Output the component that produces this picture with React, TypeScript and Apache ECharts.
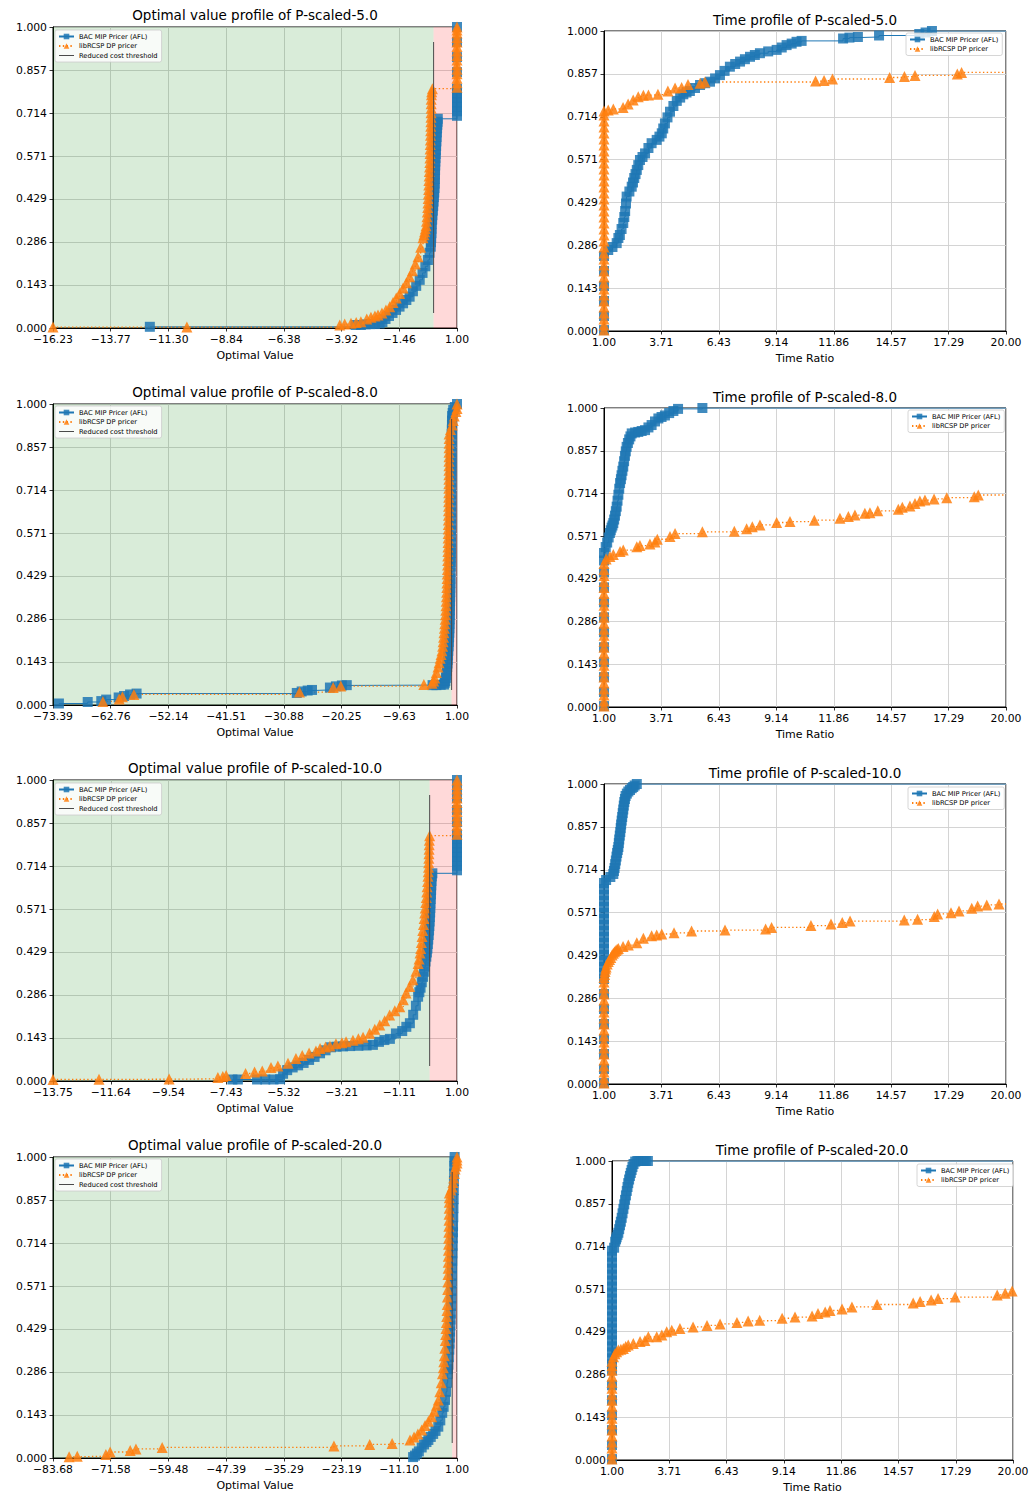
import React, { useEffect, useRef } from "react";
import * as echarts from "echarts";

type Pt = [number, number];

const BLUE = "#1f77b4";
const ORANGE = "#ff7f0e";
const NAME_BAC = "BAC MIP Pricer (AFL)";
const NAME_RCSP = "libRCSP DP pricer";
const NAME_THR = "Reduced cost threshold";

// ---- tick labels ----
const yTicks = [0, 0.143, 0.286, 0.429, 0.571, 0.714, 0.857, 1.0];
const timeTicks = [1.0, 3.71, 6.43, 9.14, 11.86, 14.57, 17.29, 20.0];
const optTicks5 = [-16.23, -13.77, -11.3, -8.84, -6.38, -3.92, -1.46, 1.0];
const optTicks8 = [-73.39, -62.76, -52.14, -41.51, -30.88, -20.25, -9.63, 1.0];
const optTicks10 = [-13.75, -11.64, -9.54, -7.43, -5.32, -3.21, -1.11, 1.0];
const optTicks20 = [-83.68, -71.58, -59.48, -47.39, -35.29, -23.19, -11.1, 1.0];
const thresholdValue = 0;
const thresholdSpan = [0.05, 0.95];
const timeEnd = 20;

// ---- optimal value profiles ----
const opt5Bac: Pt[] = [[-12.1,0.004],[-3.33,0.01],[-3.1,0.01],[-2.9,0.012],[-2.7,0.013],[-2.5,0.013],[-2.3,0.015],[-2.18,0.02],[-2.05,0.03],[-1.9,0.04],[-1.75,0.05],[-1.6,0.06],[-1.45,0.071],[-1.3,0.082],[-1.16,0.093],[-1.02,0.104],[-0.88,0.122],[-0.74,0.14],[-0.59,0.16],[-0.47,0.183],[-0.35,0.205],[-0.24,0.226],[-0.17,0.25],[-0.12,0.27],[-0.11,0.285],[-0.1,0.3],[-0.09,0.315],[-0.085,0.33],[-0.08,0.345],[-0.06,0.36],[-0.05,0.375],[-0.03,0.39],[-0.015,0.405],[0.0,0.42],[0.015,0.435],[0.03,0.45],[0.04,0.465],[0.05,0.48],[0.055,0.495],[0.06,0.51],[0.065,0.525],[0.07,0.54],[0.075,0.553],[0.08,0.565],[0.09,0.578],[0.1,0.59],[0.11,0.605],[0.12,0.62],[0.13,0.635],[0.14,0.65],[0.15,0.663],[0.16,0.675],[0.17,0.685],[0.18,0.695],[1,0.705],[1,0.72],[1,0.735],[1,0.75],[1,0.765],[1,0.78],[1,0.795],[1,0.85],[1,0.9],[1,0.95],[1,1.0]];
const opt5Rcsp: Pt[] = [[-16.23,0.003],[-10.52,0.003],[-4.0,0.01],[-3.79,0.013],[-3.52,0.016],[-3.3,0.018],[-3.1,0.021],[-2.85,0.03],[-2.67,0.036],[-2.5,0.04],[-2.37,0.043],[-2.2,0.05],[-2.03,0.06],[-1.87,0.071],[-1.73,0.085],[-1.59,0.1],[-1.45,0.115],[-1.3,0.133],[-1.16,0.15],[-1.02,0.17],[-0.9,0.19],[-0.78,0.213],[-0.66,0.237],[-0.55,0.268],[-0.45,0.3],[-0.41,0.31],[-0.38,0.32],[-0.35,0.33],[-0.32,0.34],[-0.3,0.355],[-0.28,0.37],[-0.265,0.385],[-0.25,0.4],[-0.24,0.415],[-0.23,0.43],[-0.22,0.445],[-0.21,0.46],[-0.205,0.475],[-0.2,0.49],[-0.19,0.505],[-0.18,0.52],[-0.17,0.535],[-0.16,0.55],[-0.155,0.565],[-0.15,0.58],[-0.145,0.595],[-0.14,0.61],[-0.135,0.625],[-0.13,0.64],[-0.125,0.655],[-0.12,0.67],[-0.115,0.685],[-0.11,0.7],[-0.105,0.715],[-0.1,0.73],[-0.1,0.745],[-0.1,0.76],[-0.09,0.775],[-0.08,0.785],[-0.05,0.795],[1,0.8],[1,0.815],[1,0.83],[1,0.845],[1,0.86],[1,0.875],[1,0.89],[1,0.905],[1,0.92],[1,0.935],[1,0.95],[1,0.965],[1,0.98],[1,0.99],[1,1.0]];

const opt8Bac: Pt[] = [[-72.3,0.005],[-67.0,0.01],[-64.5,0.013],[-63.6,0.018],[-61.3,0.025],[-60.3,0.03],[-59.2,0.035],[-58.0,0.038],[-28.5,0.04],[-27.6,0.045],[-26.5,0.048],[-25.7,0.05],[-22.4,0.058],[-21.3,0.062],[-20.2,0.065],[-19.3,0.066],[-3.5,0.066],[-2.8,0.066],[-2.0,0.067],[-1.4,0.068],[-1.25,0.074],[-1.15,0.08],[-1.05,0.09],[-0.95,0.1],[-0.87,0.113],[-0.8,0.126],[-0.75,0.138],[-0.7,0.15],[-0.65,0.165],[-0.6,0.18],[-0.55,0.195],[-0.5,0.21],[-0.46,0.225],[-0.42,0.24],[-0.395,0.255],[-0.37,0.27],[-0.35,0.285],[-0.33,0.3],[-0.31,0.315],[-0.29,0.33],[-0.275,0.345],[-0.26,0.36],[-0.245,0.375],[-0.23,0.39],[-0.215,0.405],[-0.2,0.42],[-0.18,0.44],[-0.16,0.46],[-0.15,0.475],[-0.14,0.49],[-0.13,0.505],[-0.12,0.52],[-0.11,0.54],[-0.1,0.56],[-0.095,0.58],[-0.09,0.6],[-0.085,0.62],[-0.08,0.64],[-0.075,0.66],[-0.07,0.68],[-0.065,0.7],[-0.06,0.72],[-0.055,0.74],[-0.05,0.76],[-0.045,0.775],[-0.04,0.79],[-0.03,0.805],[-0.02,0.82],[-0.01,0.84],[0.0,0.86],[0.015,0.88],[0.03,0.9],[0.05,0.915],[0.07,0.93],[0.085,0.945],[0.1,0.96],[0.2,0.97],[0.3,0.98],[0.6,0.99],[1,1.0]];
const opt8Rcsp: Pt[] = [[-64.2,0.012],[-61.2,0.02],[-60.6,0.027],[-58.5,0.035],[-28.0,0.043],[-21.8,0.058],[-20.4,0.063],[-5.1,0.068],[-3.6,0.072],[-3.3,0.08],[-3.1,0.09],[-2.8,0.108],[-2.5,0.126],[-2.3,0.14],[-2.1,0.155],[-1.93,0.168],[-1.77,0.18],[-1.65,0.195],[-1.55,0.21],[-1.47,0.225],[-1.4,0.24],[-1.32,0.255],[-1.25,0.27],[-1.18,0.285],[-1.12,0.3],[-1.07,0.315],[-1.03,0.33],[-0.99,0.345],[-0.95,0.36],[-0.91,0.375],[-0.88,0.39],[-0.85,0.405],[-0.82,0.42],[-0.79,0.435],[-0.76,0.45],[-0.74,0.465],[-0.72,0.48],[-0.7,0.495],[-0.68,0.51],[-0.665,0.525],[-0.65,0.54],[-0.635,0.555],[-0.62,0.57],[-0.61,0.585],[-0.6,0.6],[-0.585,0.615],[-0.57,0.63],[-0.56,0.645],[-0.55,0.66],[-0.54,0.675],[-0.53,0.69],[-0.52,0.705],[-0.51,0.72],[-0.505,0.735],[-0.5,0.75],[-0.495,0.765],[-0.49,0.78],[-0.485,0.795],[-0.48,0.81],[-0.475,0.825],[-0.47,0.84],[-0.465,0.855],[-0.46,0.87],[-0.455,0.885],[-0.45,0.9],[-0.2,0.915],[0.1,0.93],[0.3,0.945],[0.5,0.96],[0.8,0.975],[1,0.985],[1,1.0]];

const opt10Bac: Pt[] = [[-7.2,0.005],[-7.0,0.005],[-6.3,0.005],[-6.0,0.005],[-5.7,0.005],[-5.46,0.006],[-5.35,0.024],[-5.2,0.036],[-5.0,0.045],[-4.8,0.052],[-4.6,0.06],[-4.4,0.07],[-4.2,0.08],[-4.0,0.092],[-3.8,0.102],[-3.6,0.112],[-3.4,0.114],[-3.16,0.115],[-2.9,0.116],[-2.6,0.117],[-2.3,0.118],[-2.07,0.12],[-1.85,0.13],[-1.65,0.136],[-1.45,0.14],[-1.23,0.158],[-1.0,0.166],[-0.85,0.18],[-0.72,0.192],[-0.6,0.22],[-0.5,0.25],[-0.42,0.28],[-0.375,0.295],[-0.33,0.31],[-0.285,0.328],[-0.24,0.346],[-0.21,0.363],[-0.18,0.38],[-0.15,0.397],[-0.12,0.413],[-0.1,0.427],[-0.08,0.44],[-0.065,0.455],[-0.05,0.47],[-0.035,0.485],[-0.02,0.5],[-0.01,0.515],[0.0,0.53],[0.01,0.545],[0.02,0.56],[0.025,0.575],[0.03,0.59],[0.04,0.605],[0.05,0.62],[0.055,0.635],[0.06,0.65],[0.07,0.665],[0.08,0.68],[0.1,0.69],[1,0.7],[1,0.715],[1,0.73],[1,0.745],[1,0.76],[1,0.775],[1,0.79],[1,0.805],[1,0.82],[1,0.86],[1,0.9],[1,0.94],[1,0.97],[1,1.0]];
const opt10Rcsp: Pt[] = [[-13.75,0.005],[-12.07,0.006],[-9.51,0.007],[-7.73,0.012],[-7.55,0.015],[-7.43,0.018],[-6.72,0.025],[-6.39,0.03],[-6.11,0.033],[-5.79,0.045],[-5.54,0.05],[-5.17,0.059],[-4.88,0.075],[-4.65,0.085],[-4.4,0.093],[-4.15,0.1],[-4.0,0.108],[-3.8,0.113],[-3.64,0.116],[-3.42,0.124],[-3.2,0.127],[-3.05,0.13],[-2.8,0.135],[-2.6,0.14],[-2.43,0.145],[-2.19,0.159],[-2.0,0.172],[-1.82,0.186],[-1.64,0.2],[-1.46,0.219],[-1.27,0.233],[-1.09,0.247],[-0.96,0.27],[-0.86,0.292],[-0.73,0.314],[-0.61,0.336],[-0.5,0.365],[-0.42,0.39],[-0.385,0.405],[-0.35,0.425],[-0.325,0.44],[-0.3,0.46],[-0.275,0.48],[-0.25,0.5],[-0.225,0.52],[-0.2,0.54],[-0.18,0.558],[-0.16,0.575],[-0.14,0.593],[-0.12,0.61],[-0.105,0.628],[-0.09,0.645],[-0.075,0.663],[-0.06,0.68],[-0.05,0.695],[-0.04,0.71],[-0.035,0.725],[-0.03,0.74],[-0.025,0.755],[-0.02,0.77],[-0.015,0.785],[-0.01,0.8],[0.0,0.815],[1,0.82],[1,0.835],[1,0.85],[1,0.865],[1,0.88],[1,0.895],[1,0.91],[1,0.925],[1,0.94],[1,0.955],[1,0.97],[1,0.985],[1,1.0]];

const opt20Bac: Pt[] = [[-8.2,0.003],[-7.8,0.008],[-7.4,0.015],[-7.0,0.022],[-6.4,0.035],[-5.9,0.045],[-5.4,0.053],[-5.0,0.06],[-4.5,0.07],[-4.0,0.08],[-3.5,0.09],[-2.92,0.104],[-2.5,0.125],[-2.1,0.15],[-1.8,0.17],[-1.52,0.193],[-1.3,0.22],[-1.1,0.25],[-0.95,0.28],[-0.88,0.295],[-0.8,0.31],[-0.71,0.335],[-0.62,0.36],[-0.56,0.38],[-0.5,0.4],[-0.45,0.42],[-0.4,0.44],[-0.35,0.46],[-0.3,0.48],[-0.25,0.505],[-0.2,0.53],[-0.16,0.555],[-0.12,0.58],[-0.085,0.605],[-0.05,0.63],[-0.015,0.655],[0.02,0.68],[0.06,0.705],[0.1,0.73],[0.135,0.75],[0.17,0.77],[0.22,0.8],[0.26,0.83],[0.3,0.86],[0.33,0.89],[0.36,0.92],[0.4,0.945],[0.43,0.97],[0.47,0.985],[0.5,1.0]];
const opt20Rcsp: Pt[] = [[-80.3,0.004],[-78.6,0.006],[-72.6,0.012],[-71.7,0.02],[-67.5,0.025],[-66.3,0.03],[-60.8,0.035],[-24.8,0.04],[-17.3,0.045],[-12.6,0.048],[-8.85,0.06],[-8.0,0.07],[-7.2,0.08],[-6.4,0.093],[-5.7,0.108],[-5.0,0.122],[-4.31,0.137],[-3.8,0.155],[-3.3,0.175],[-2.92,0.193],[-2.6,0.22],[-2.3,0.25],[-2.05,0.28],[-1.87,0.3],[-1.76,0.32],[-1.65,0.34],[-1.55,0.365],[-1.45,0.39],[-1.37,0.41],[-1.3,0.43],[-1.23,0.45],[-1.16,0.47],[-1.1,0.49],[-1.05,0.51],[-1.0,0.535],[-0.95,0.56],[-0.915,0.585],[-0.88,0.61],[-0.855,0.63],[-0.83,0.65],[-0.815,0.67],[-0.8,0.69],[-0.775,0.71],[-0.75,0.73],[-0.725,0.75],[-0.7,0.77],[-0.68,0.79],[-0.66,0.81],[-0.64,0.83],[-0.62,0.85],[-0.61,0.865],[-0.6,0.88],[-0.3,0.89],[-0.05,0.9],[0.15,0.915],[0.3,0.93],[0.45,0.945],[0.6,0.96],[0.8,0.97],[1,0.98],[1,0.99],[1,1.0]];

// ---- time profiles ----
const time5Bac: Pt[] = [[1,0.003],[1,0.05],[1,0.1],[1,0.15],[1,0.2],[1,0.25],[1.2,0.27],[1.4,0.28],[1.6,0.293],[1.68,0.31],[1.75,0.32],[1.83,0.34],[1.91,0.36],[1.96,0.38],[2.0,0.4],[2.04,0.425],[2.07,0.448],[2.2,0.465],[2.31,0.481],[2.37,0.495],[2.43,0.51],[2.49,0.523],[2.55,0.537],[2.62,0.553],[2.7,0.57],[2.82,0.58],[2.94,0.592],[3.1,0.61],[3.25,0.626],[3.49,0.637],[3.62,0.648],[3.73,0.659],[3.8,0.675],[3.88,0.692],[4.0,0.712],[4.12,0.731],[4.28,0.75],[4.44,0.767],[4.6,0.778],[4.75,0.789],[4.9,0.795],[5.06,0.8],[5.3,0.81],[5.54,0.82],[5.78,0.826],[6.01,0.831],[6.25,0.842],[6.48,0.853],[6.7,0.867],[6.95,0.881],[7.2,0.89],[7.43,0.898],[7.66,0.906],[7.9,0.914],[8.13,0.92],[8.37,0.926],[8.76,0.932],[9.16,0.937],[9.4,0.945],[9.63,0.953],[9.87,0.958],[10.1,0.964],[10.34,0.967],[12.3,0.975],[12.6,0.978],[13.0,0.98],[14.0,0.985],[15.9,0.99],[16.2,0.995],[16.5,1.0]];
const time5Rcsp: Pt[] = [[1,0.003],[1,0.02],[1,0.04],[1,0.06],[1,0.08],[1,0.1],[1,0.12],[1,0.14],[1,0.16],[1,0.18],[1,0.2],[1,0.22],[1,0.24],[1,0.26],[1,0.28],[1,0.3],[1,0.32],[1,0.34],[1,0.36],[1,0.38],[1,0.4],[1,0.42],[1,0.44],[1,0.46],[1,0.48],[1,0.5],[1,0.52],[1,0.54],[1,0.56],[1,0.58],[1,0.6],[1,0.62],[1,0.64],[1,0.66],[1,0.68],[1,0.7],[1,0.72],[1,0.733],[1.2,0.737],[1.44,0.74],[1.9,0.745],[2.14,0.757],[2.38,0.77],[2.62,0.781],[2.86,0.786],[3.1,0.787],[3.55,0.789],[4.02,0.8],[4.36,0.81],[4.67,0.812],[4.97,0.822],[5.54,0.826],[5.77,0.83],[11.0,0.833],[11.4,0.835],[11.8,0.84],[14.5,0.845],[15.2,0.848],[15.7,0.852],[17.7,0.857],[17.9,0.862]];

const time8Bac: Pt[] = [[1,0.003],[1,0.05],[1,0.1],[1,0.15],[1,0.2],[1,0.25],[1,0.3],[1,0.35],[1,0.4],[1,0.45],[1,0.49],[1,0.515],[1.08,0.535],[1.15,0.55],[1.22,0.567],[1.28,0.582],[1.32,0.591],[1.36,0.6],[1.4,0.607],[1.44,0.615],[1.48,0.627],[1.52,0.64],[1.56,0.655],[1.6,0.67],[1.64,0.69],[1.68,0.71],[1.72,0.73],[1.76,0.749],[1.8,0.762],[1.83,0.775],[1.87,0.79],[1.91,0.804],[1.95,0.822],[1.99,0.84],[2.03,0.855],[2.07,0.87],[2.13,0.883],[2.19,0.895],[2.25,0.905],[2.31,0.915],[2.47,0.918],[2.62,0.92],[2.78,0.923],[2.94,0.926],[3.1,0.935],[3.25,0.943],[3.41,0.955],[3.57,0.965],[3.72,0.97],[3.88,0.975],[4.08,0.983],[4.28,0.99],[4.5,0.997],[5.65,1.0]];
const time8Rcsp: Pt[] = [[1,0.003],[1,0.02],[1,0.04],[1,0.06],[1,0.08],[1,0.1],[1,0.12],[1,0.14],[1,0.16],[1,0.18],[1,0.2],[1,0.22],[1,0.24],[1,0.26],[1,0.28],[1,0.3],[1,0.32],[1,0.34],[1,0.36],[1,0.38],[1,0.4],[1,0.42],[1,0.44],[1,0.46],[1,0.48],[1.1,0.495],[1.28,0.503],[1.44,0.51],[1.76,0.52],[1.91,0.525],[2.55,0.536],[2.7,0.54],[3.17,0.545],[3.41,0.552],[3.52,0.561],[4.12,0.57],[4.36,0.58],[5.65,0.586],[7.16,0.588],[7.74,0.596],[8.01,0.603],[8.37,0.609],[9.16,0.617],[9.79,0.62],[10.94,0.625],[12.15,0.631],[12.55,0.637],[12.86,0.642],[13.33,0.648],[13.57,0.65],[13.94,0.656],[14.91,0.661],[15.1,0.668],[15.46,0.672],[15.7,0.681],[15.93,0.689],[16.17,0.692],[16.6,0.696],[17.2,0.7],[18.5,0.703],[18.69,0.709]];

const time10Bac: Pt[] = [[1,0.003],[1,0.05],[1,0.1],[1,0.15],[1,0.2],[1,0.25],[1,0.3],[1,0.35],[1,0.37],[1,0.39],[1,0.41],[1,0.43],[1,0.45],[1,0.47],[1,0.49],[1,0.51],[1,0.53],[1,0.55],[1,0.57],[1,0.59],[1,0.61],[1,0.63],[1,0.65],[1,0.67],[1.1,0.68],[1.3,0.69],[1.44,0.7],[1.47,0.71],[1.5,0.72],[1.53,0.733],[1.56,0.745],[1.59,0.758],[1.62,0.77],[1.65,0.78],[1.68,0.79],[1.7,0.803],[1.72,0.815],[1.745,0.828],[1.77,0.84],[1.79,0.853],[1.81,0.865],[1.835,0.878],[1.86,0.89],[1.885,0.903],[1.91,0.915],[1.935,0.928],[1.96,0.94],[1.99,0.95],[2.02,0.96],[2.08,0.968],[2.15,0.975],[2.23,0.98],[2.31,0.986],[2.38,0.99],[2.45,0.995],[2.55,1.0]];
const time10Rcsp: Pt[] = [[1,0.003],[1,0.02],[1,0.04],[1,0.06],[1,0.08],[1,0.1],[1,0.12],[1,0.14],[1,0.16],[1,0.18],[1,0.2],[1,0.22],[1,0.24],[1,0.26],[1,0.28],[1,0.3],[1,0.32],[1,0.34],[1,0.355],[1.03,0.365],[1.05,0.375],[1.08,0.383],[1.1,0.39],[1.15,0.4],[1.2,0.408],[1.26,0.415],[1.32,0.422],[1.38,0.43],[1.44,0.436],[1.5,0.441],[1.56,0.445],[1.62,0.449],[1.68,0.452],[1.9,0.458],[2.15,0.463],[2.55,0.471],[2.86,0.486],[3.25,0.494],[3.49,0.497],[3.73,0.5],[4.31,0.504],[5.14,0.51],[6.72,0.513],[8.64,0.517],[8.92,0.522],[10.78,0.528],[11.73,0.533],[12.26,0.538],[12.63,0.543],[15.19,0.547],[15.82,0.549],[16.61,0.558],[16.77,0.567],[17.4,0.571],[17.78,0.577],[18.38,0.586],[18.66,0.593],[19.09,0.597],[19.67,0.6]];

const time20Bac: Pt[] = [[1,0.003],[1,0.05],[1,0.1],[1,0.15],[1,0.2],[1,0.25],[1,0.3],[1,0.32],[1,0.34],[1,0.36],[1,0.38],[1,0.4],[1,0.42],[1,0.44],[1,0.46],[1,0.48],[1,0.5],[1,0.52],[1,0.54],[1,0.56],[1,0.58],[1,0.6],[1,0.62],[1,0.64],[1,0.66],[1,0.68],[1,0.7],[1.1,0.71],[1.15,0.73],[1.19,0.738],[1.22,0.745],[1.26,0.753],[1.3,0.76],[1.34,0.772],[1.38,0.785],[1.42,0.797],[1.46,0.81],[1.5,0.825],[1.54,0.84],[1.58,0.855],[1.62,0.87],[1.66,0.885],[1.7,0.9],[1.735,0.913],[1.77,0.926],[1.81,0.938],[1.85,0.95],[1.89,0.96],[1.93,0.97],[1.97,0.98],[2.02,0.99],[2.1,0.998],[2.2,1.0],[2.3,1.0],[2.4,1.0],[2.5,1.0],[2.6,1.0],[2.7,1.0]];
const time20Rcsp: Pt[] = [[1,0.003],[1,0.02],[1,0.04],[1,0.06],[1,0.08],[1,0.1],[1,0.12],[1,0.14],[1,0.16],[1,0.18],[1,0.2],[1,0.22],[1,0.24],[1,0.26],[1,0.28],[1,0.3],[1,0.315],[1,0.33],[1.07,0.345],[1.14,0.355],[1.22,0.362],[1.3,0.368],[1.42,0.37],[1.54,0.373],[1.65,0.38],[1.77,0.385],[2.01,0.39],[2.33,0.396],[2.56,0.4],[2.72,0.412],[3.12,0.412],[3.36,0.418],[3.59,0.429],[3.83,0.434],[4.22,0.44],[4.84,0.445],[5.5,0.45],[6.12,0.455],[6.92,0.46],[7.45,0.465],[8.0,0.467],[9.06,0.474],[9.67,0.478],[10.48,0.482],[10.76,0.49],[11.1,0.495],[11.33,0.5],[11.9,0.505],[12.37,0.512],[13.56,0.52],[15.27,0.525],[15.6,0.53],[16.12,0.535],[16.45,0.54],[17.26,0.545],[19.25,0.552],[19.63,0.558],[19.96,0.565]];

// ---- panel layout ----
interface Panel {
  kind: "opt" | "time";
  title: string;
  ticks: number[];
  bac: Pt[];
  rcsp: Pt[];
  grid: [number, number, number, number];
  titlePos: [number, number];
  legendPos: [number, number];
}

const panels: Panel[] = [
  { kind: "opt", title: "Optimal value profile of P-scaled-5.0", ticks: optTicks5, bac: opt5Bac, rcsp: opt5Rcsp, grid: [53, 27, 404, 301], titlePos: [255, 15], legendPos: [55, 30] },
  { kind: "opt", title: "Optimal value profile of P-scaled-8.0", ticks: optTicks8, bac: opt8Bac, rcsp: opt8Rcsp, grid: [53, 404, 404, 301], titlePos: [255, 392], legendPos: [55, 406] },
  { kind: "opt", title: "Optimal value profile of P-scaled-10.0", ticks: optTicks10, bac: opt10Bac, rcsp: opt10Rcsp, grid: [53, 780, 404, 301], titlePos: [255, 768], legendPos: [55, 783] },
  { kind: "opt", title: "Optimal value profile of P-scaled-20.0", ticks: optTicks20, bac: opt20Bac, rcsp: opt20Rcsp, grid: [53, 1157, 404, 301], titlePos: [255, 1145], legendPos: [55, 1159] },
  { kind: "time", title: "Time profile of P-scaled-5.0", ticks: timeTicks, bac: time5Bac, rcsp: time5Rcsp, grid: [604, 31, 402, 300], titlePos: [805, 20], legendPos: [906, 33] },
  { kind: "time", title: "Time profile of P-scaled-8.0", ticks: timeTicks, bac: time8Bac, rcsp: time8Rcsp, grid: [604, 408, 402, 299], titlePos: [805, 397], legendPos: [908, 410] },
  { kind: "time", title: "Time profile of P-scaled-10.0", ticks: timeTicks, bac: time10Bac, rcsp: time10Rcsp, grid: [604, 784, 402, 300], titlePos: [805, 773], legendPos: [908, 787] },
  { kind: "time", title: "Time profile of P-scaled-20.0", ticks: timeTicks, bac: time20Bac, rcsp: time20Rcsp, grid: [612, 1161, 401, 299], titlePos: [812, 1150], legendPos: [917, 1164] },
];

const FONT = "DejaVu Sans";

function fmt(v: number, d: number): string {
  const s = Math.abs(v).toFixed(d);
  return v < -1e-9 ? "\u2212" + s : s;
}

function curve(name: string, pts: Pt[], idx: number, color: string, symbol: string, size: number, dotted: boolean, tailX?: number) {
  const data: any[] = pts.map((p) => [p[0], p[1]]);
  if (tailX !== undefined) {
    const last = pts[pts.length - 1];
    data.push({ value: [tailX, last[1]], symbol: "none" });
  }
  return {
    type: "line",
    name,
    xAxisIndex: idx,
    yAxisIndex: idx,
    data,
    step: "end",
    symbol,
    symbolSize: size,
    showSymbol: true,
    color,
    itemStyle: { color, opacity: 0.85 },
    lineStyle: { color, width: dotted ? 1.3 : 1, type: dotted ? [1.4, 2.4] : "solid" },
    emphasis: { disabled: true },
    silent: true,
    z: 2,
  };
}

function buildOption() {
  const grid: any[] = [];
  const xAxis: any[] = [];
  const yAxis: any[] = [];
  const series: any[] = [];
  const legend: any[] = [];
  const graphic: any[] = [];

  panels.forEach((p, i) => {
    const [l, t, w, h] = p.grid;
    grid.push({ left: l, top: t, width: w, height: h, show: true, borderColor: "#000", borderWidth: 1, backgroundColor: "transparent" });
    const xmin = p.ticks[0];
    const xmax = p.ticks[p.ticks.length - 1];
    xAxis.push({
      gridIndex: i,
      type: "value",
      min: xmin,
      max: xmax,
      name: p.kind === "opt" ? "Optimal Value" : "Time Ratio",
      nameLocation: "middle",
      nameGap: 22,
      nameTextStyle: { fontFamily: FONT, fontSize: 11, color: "#000" },
      axisLine: { show: true, onZero: false, lineStyle: { color: "#000", width: 1 } },
      axisTick: { show: true, length: 3.5, customValues: p.ticks, lineStyle: { color: "#000", width: 0.8 } },
      axisLabel: { customValues: p.ticks, formatter: (v: number) => fmt(v, 2), color: "#000", fontFamily: FONT, fontSize: 10.8, margin: 6 },
      splitLine: { show: true, lineStyle: { color: "#cfcfcf", width: 0.9 } },
    });
    yAxis.push({
      gridIndex: i,
      type: "value",
      min: 0,
      max: 1,
      axisLine: { show: true, onZero: false, lineStyle: { color: "#000", width: 1 } },
      axisTick: { show: true, length: 3.5, customValues: yTicks, lineStyle: { color: "#000", width: 0.8 } },
      axisLabel: { customValues: yTicks, formatter: (v: number) => fmt(v, 3), color: "#000", fontFamily: FONT, fontSize: 10.8, margin: 6 },
      splitLine: { show: true, lineStyle: { color: "#cfcfcf", width: 0.9 } },
    });

    if (p.kind === "opt") {
      series.push({
        type: "line",
        name: "__bg" + i,
        xAxisIndex: i,
        yAxisIndex: i,
        data: [],
        silent: true,
        z: 1,
        markArea: {
          silent: true,
          z: 1,
          label: { show: false },
          data: [
            [{ xAxis: xmin, itemStyle: { color: "rgba(0,128,0,0.15)" } }, { xAxis: thresholdValue }],
            [{ xAxis: thresholdValue, itemStyle: { color: "rgba(255,0,0,0.15)" } }, { xAxis: xmax }],
          ],
        },
      });
    }
    const tail = p.kind === "time" ? timeEnd : undefined;
    series.push(curve(NAME_BAC, p.bac, i, BLUE, "rect", 10, false, tail));
    series.push(curve(NAME_RCSP, p.rcsp, i, ORANGE, "triangle", 11, true, tail));
    if (p.kind === "opt") {
      series.push({
        type: "line",
        name: NAME_THR,
        xAxisIndex: i,
        yAxisIndex: i,
        data: [[thresholdValue, thresholdSpan[0]], [thresholdValue, thresholdSpan[1]]],
        symbol: "none",
        color: "#4a4a4a",
        lineStyle: { color: "#4a4a4a", width: 1.1, opacity: 0.9 },
        silent: true,
        z: 3,
      });
    }

    legend.push({
      data: p.kind === "opt"
        ? [NAME_BAC, NAME_RCSP, { name: NAME_THR, icon: "path://M0,0H30V2H0Z" }]
        : [NAME_BAC, NAME_RCSP],
      left: p.legendPos[0],
      top: p.legendPos[1],
      orient: "vertical",
      itemWidth: 15,
      itemHeight: 7,
      itemGap: 2.5,
      padding: [3, 4, 3, 3],
      backgroundColor: "rgba(255,255,255,0.8)",
      borderColor: "#cccccc",
      borderWidth: 0.8,
      borderRadius: 2,
      selectedMode: false,
      textStyle: { fontFamily: FONT, fontSize: 6.7, color: "#000" },
    });

    graphic.push({
      type: "text",
      x: p.titlePos[0],
      y: p.titlePos[1],
      silent: true,
      style: {
        text: p.title,
        fill: "#000",
        fontFamily: FONT,
        fontSize: 13.5,
        align: "center",
        verticalAlign: "middle",
        textAlign: "center",
        textVerticalAlign: "middle",
      },
    });
  });

  return {
    animation: false,
    backgroundColor: "#fff",
    textStyle: { fontFamily: FONT },
    grid,
    xAxis,
    yAxis,
    series,
    legend,
    graphic,
  };
}

export default function App() {
  const ref = useRef<HTMLDivElement>(null);
  useEffect(() => {
    if (!ref.current) return;
    const chart = echarts.init(ref.current, undefined, { renderer: "svg" });
    chart.setOption(buildOption() as any);
    return () => chart.dispose();
  }, []);
  return <div ref={ref} style={{ position: "absolute", left: 0, top: 0, width: 1035, height: 1495, background: "#fff" }} />;
}
